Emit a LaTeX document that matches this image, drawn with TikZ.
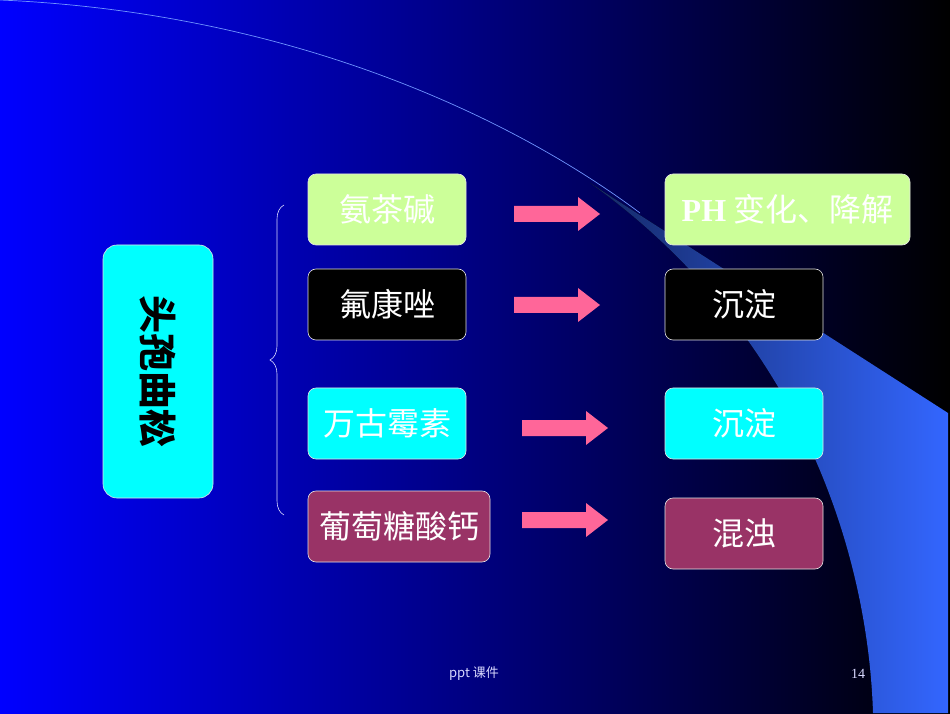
\documentclass[tikz,border=0pt]{standalone}
\usepackage{fontspec}
\setmainfont{Liberation Serif}
\newfontfamily\cjk{Noto Sans CJK SC}
\usetikzlibrary{decorations.pathreplacing}
\definecolor{lgreen}{RGB}{204,255,153}
\definecolor{maroon}{RGB}{153,51,102}
\definecolor{cyanb}{RGB}{0,255,255}
\definecolor{pinkarr}{RGB}{255,102,153}
\definecolor{swoosh}{RGB}{51,102,255}
\begin{document}
\begin{tikzpicture}[x=1pt,y=1pt,
  box/.style={rounded corners=8pt,draw=white!80!gray,line width=0.6pt,text=white,font=\cjk\fontsize{32}{32}\selectfont,inner sep=0pt},
  arr/.style={fill=pinkarr,draw=none},
  pic arrow/.pic={\path[arr] (0,-8) -- (64,-8) -- (64,-17) -- (86,0) -- (64,17) -- (64,8) -- (0,8) -- cycle;}]
\useasboundingbox (0,0) rectangle (950,713);
\shade[left color=blue,right color=black] (0,0) rectangle (950,713);
% swoosh
\fill[left color=swoosh!40!black,right color=swoosh,shading angle=90] (590,530) -- (948,300) -- (948,0) -- (873,0) .. controls (868,160) and (800,380) .. (590,530) -- cycle;
\draw[swoosh!70!white,line width=0.7pt] (0,713) .. controls (300,700) and (520,590) .. (640,500);
% left node
\node[box,fill=cyanb,minimum width=110pt,minimum height=253pt,rounded corners=14pt] (main) at (158,341.5) {};
\node[rotate=-90,font=\cjk\bfseries\fontsize{38}{38}\selectfont,text=black] (maintxt) at (158,341.5) {头孢曲松};
% brace
\draw[white!85!blue,line width=0.6pt,decorate,decoration={brace,amplitude=14pt,mirror}] (284,508) -- (284,198);
% middle
\node[box,fill=lgreen,minimum width=158pt,minimum height=71pt] (a1) at (387,503.5) {氨茶碱};
\node[box,fill=black,minimum width=158pt,minimum height=71pt] (a2) at (387,408.5) {氟康唑};
\node[box,fill=cyanb,minimum width=158pt,minimum height=71pt] (a3) at (387,289.5) {万古霉素};
\node[box,fill=maroon,minimum width=182pt,minimum height=71pt] (a4) at (399,186.5) {葡萄糖酸钙};
% right
\node[box,fill=lgreen,minimum width=245pt,minimum height=71pt] (b1) at (787.5,503.5) {{\rmfamily\bfseries PH} 变化、降解};
\node[box,fill=black,minimum width=158pt,minimum height=71pt] (b2) at (744,408.5) {沉淀};
\node[box,fill=cyanb,minimum width=158pt,minimum height=71pt] (b3) at (744,289.5) {沉淀};
\node[box,fill=maroon,minimum width=158pt,minimum height=71pt] (b4) at (744,179.5) {混浊};
% arrows
\pic at (514,499) {pic arrow};
\pic at (514,408) {pic arrow};
\pic at (522,285) {pic arrow};
\pic at (522,193) {pic arrow};
% footer
\node[text=white!85!blue,font=\cjk\fontsize{13}{13}\selectfont] (foot) at (474,39) {ppt 课件};
\node[text=white!85!blue,font=\fontsize{14}{14}\selectfont] (num) at (858,39) {14};
\end{tikzpicture}
\end{document}
